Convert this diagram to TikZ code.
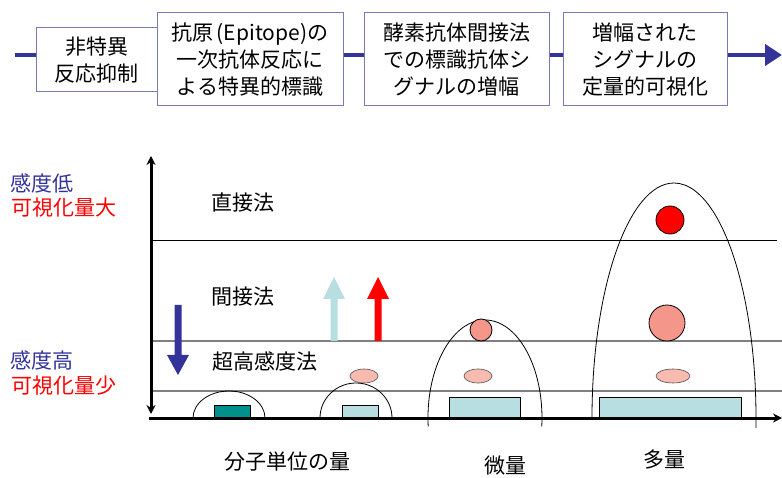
\documentclass[tikz,border=0pt]{standalone}
\usepackage{fontspec}
\setmainfont{Noto Sans CJK JP}
\usetikzlibrary{arrows.meta}
\definecolor{navy}{HTML}{333399}
\definecolor{boxline}{HTML}{7A7AB8}
\definecolor{lblue}{HTML}{B7DEE0}
\definecolor{teal2}{HTML}{00918C}
\definecolor{salmon}{HTML}{F4978A}
\definecolor{lpink}{HTML}{F9BBB0}
\tikzset{
  jtext/.style={font=\fontsize{21}{27}\selectfont, inner sep=0pt},
  flowbox/.style={draw=boxline, line width=1pt, fill=white, jtext, align=center, minimum height=93pt},
  flowline/.style={navy, line width=4.5pt},
  level/.style={line width=1pt},
  glevel/.style={gray, line width=1.5pt},
  dome/.style={line width=0.8pt},
  sample/.style={draw=black, line width=0.8pt},
  axis/.style={line width=3pt, -{Stealth[length=9pt,width=9pt]}},
}
\begin{document}
\begin{tikzpicture}[x=1pt,y=-1pt]
\useasboundingbox (0,0) rectangle (782,478);
% flow
\coordinate (fstart) at (15,55);
\coordinate (fend) at (782,55);
\node[flowbox, minimum width=121pt, minimum height=64pt] (b1) at (96.5,60) {非特異\\反応抑制};
\node[flowbox, minimum width=186pt] (b2) at (250,59.5) {抗原\hspace{3pt}(Epitope)の\\一次抗体反応に\\よる特異的標識};
\node[flowbox, minimum width=185pt] (b3) at (456.5,59.5) {酵素抗体間接法\\での標識抗体シ\\グナルの増幅};
\node[flowbox, minimum width=164pt] (b4) at (645,59.5) {増幅された\\シグナルの\\定量的可視化};
\draw[flowline] (fstart) -- (fstart -| b1.west);
\draw[flowline] (fstart -| b2.east) -- (fstart -| b3.west);
\draw[flowline] (fstart -| b3.east) -- (fstart -| b4.west);
\draw[flowline, -{Triangle[length=17pt,width=21pt]}] (fstart -| b4.east) -- (fend);
% level lines
\draw[level] (151,241) -- (777,241);
\draw[glevel] (151,341) -- (782,341);
\draw[glevel] (151,391) -- (782,391);
% domes
\draw[dome] (193,418) arc[start angle=180,end angle=360,x radius=36,y radius=27];
\draw[dome] (320,418) arc[start angle=180,end angle=360,x radius=36,y radius=35];
\draw[dome] (428.2,426.5) arc[start angle=175,end angle=365,x radius=57,y radius=98];
\draw[dome] (592,418) arc[start angle=180,end angle=362.4,x radius=82,y radius=235];
% samples
\fill[teal2, draw=black, line width=0.8pt] (214,405) rectangle (250,418);
\filldraw[fill=lblue, sample] (342,405) rectangle (378,418);
\filldraw[fill=lblue, sample] (449,397) rectangle (520,418);
\filldraw[fill=lblue, sample] (599,397) rectangle (741,418);
\filldraw[fill=lpink, draw=gray!60!black, line width=0.6pt] (364,376) ellipse[x radius=14,y radius=7];
\filldraw[fill=lpink, draw=gray!60!black, line width=0.6pt] (478,376) ellipse[x radius=14,y radius=7];
\filldraw[fill=lpink, draw=gray!60!black, line width=0.6pt] (673,376) ellipse[x radius=17,y radius=7];
\filldraw[fill=salmon, sample] (481,330) circle[radius=11];
\filldraw[fill=salmon, sample] (667,323) circle[radius=18];
\filldraw[fill=red, sample] (670,220) circle[radius=14];
% block arrows
\fill[navy] (174.5,305) -- (181.5,305) -- (181.5,355) -- (189,355) -- (178,375) -- (167,355) -- (174.5,355) -- cycle;
\fill[lblue] (330.5,341) -- (337.5,341) -- (337.5,299) -- (345,299) -- (334,277) -- (323,299) -- (330.5,299) -- cycle;
\fill[red] (374.5,341) -- (381.5,341) -- (381.5,299) -- (389,299) -- (378,277) -- (367,299) -- (374.5,299) -- cycle;
% axes
\draw[axis, {Stealth[length=9pt,width=9pt]}-{Stealth[length=9pt,width=9pt]}] (151,414) -- (151,156);
\draw[axis] (149,418) -- (782,418);
% texts
\node[jtext] (t1) at (242.5,203) {直接法};
\node[jtext] (t2) at (242.5,297) {間接法};
\node[jtext] (t3) at (265,361) {超高感度法};
\node[jtext, anchor=west, text=navy] (l1) at (10,183) {感度低};
\node[jtext, anchor=west, text=red] (l2) at (11,208) {可視化量大};
\node[jtext, anchor=west, text=navy] (l3) at (10,360) {感度高};
\node[jtext, anchor=west, text=red] (l4) at (11,386) {可視化量少};
\node[jtext] (x1) at (287.5,462) {分子単位の量};
\node[jtext] (x2) at (505,466) {微量};
\node[jtext] (x3) at (664,460) {多量};
\end{tikzpicture}
\end{document}
